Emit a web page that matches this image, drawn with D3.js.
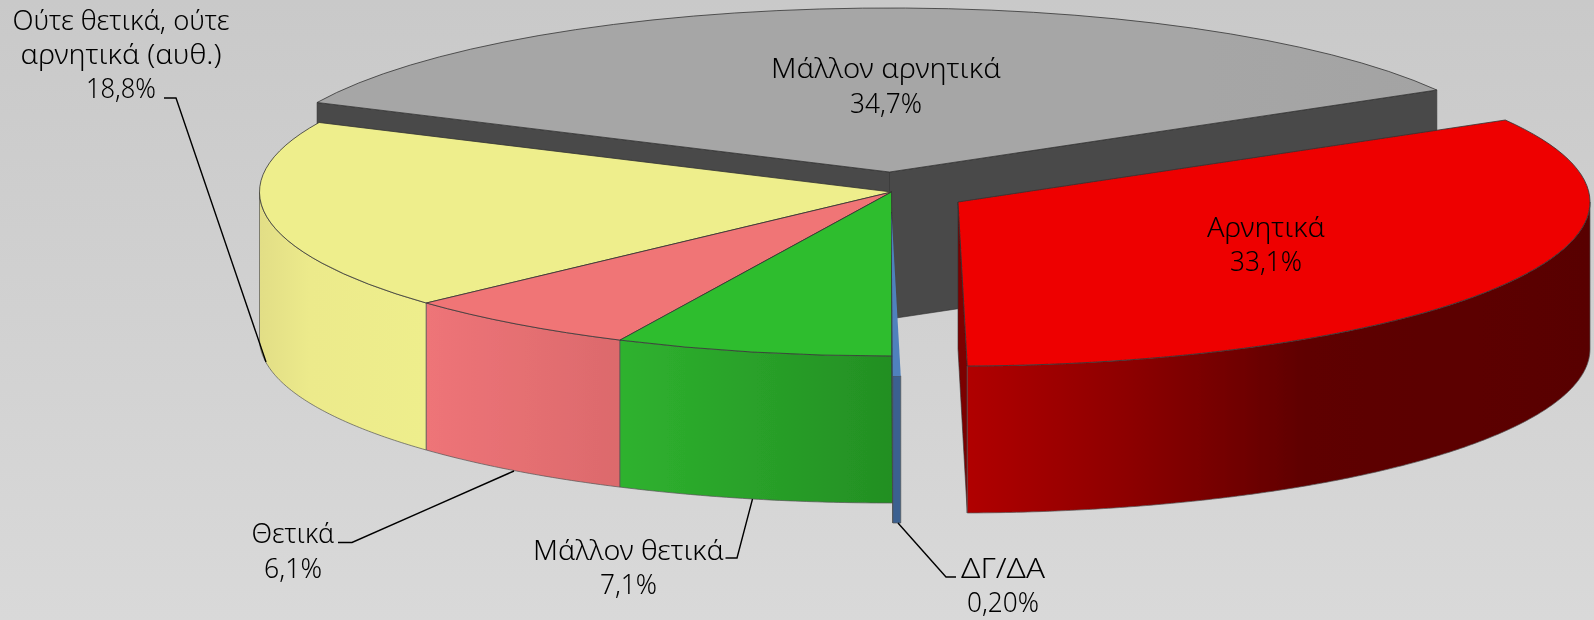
<!DOCTYPE html>
<html>
<head>
<meta charset="utf-8">
<script src="https://cdn.jsdelivr.net/npm/d3@7"></script>
<style>
  html, body { margin: 0; padding: 0; background: #d0d0d0; }
  svg { display: block; }
  text { font-family: "Noto Sans", sans-serif; font-weight: 300; font-size: 27px; fill: #000; text-anchor: middle; }
</style>
</head>
<body>
<svg class="svg"></svg>
<script>
// chart values, clockwise from the edge shared by the gray and red slices
const categories = ['Αρνητικά', 'ΔΓ/ΔΑ', 'Μάλλον θετικά', 'Θετικά', 'Ούτε θετικά, ούτε αρνητικά (αυθ.)', 'Μάλλον αρνητικά'];
const values = [33.1, 0.2, 7.1, 6.1, 18.8, 34.7];
const valueLabels = ['33,1%', '0,20%', '7,1%', '6,1%', '18,8%', '34,7%'];

const width = 1594;
const height = 620;
const rx = 632;
const ry = 164;
const depth = 147;
const cx = 891.5;
const cy = 192;
const rad = Math.PI / 180;

const svg = d3.select('.svg').attr('width', width).attr('height', height);
const defs = svg.append('defs');

function gradient(id, x1, x2, stops) {
  const g = defs.append('linearGradient')
    .attr('id', id)
    .attr('gradientUnits', 'userSpaceOnUse')
    .attr('x1', x1).attr('x2', x2).attr('y1', 0).attr('y2', 0);
  stops.forEach(s => g.append('stop').attr('offset', s[0]).attr('stop-color', s[1]));
}

defs.append('linearGradient')
  .attr('id', 'bg')
  .attr('x1', 0).attr('x2', 0).attr('y1', 0).attr('y2', 1)
  .call(g => {
    g.append('stop').attr('offset', 0).attr('stop-color', '#c9c9c9');
    g.append('stop').attr('offset', 1).attr('stop-color', '#d9d9d9');
  });

// the reference is an upscaled bitmap, a touch of blur keeps edges and text alike
defs.append('filter')
  .attr('id', 'soft')
  .attr('x', 0).attr('y', 0).attr('width', 1).attr('height', 1)
  .append('feGaussianBlur')
  .attr('stdDeviation', 0.45);

gradient('gray-top', 316, 1437, [[0, '#a6a6a6'], [0.45, '#a0a0a0'], [1, '#a9a9a9']]);
gradient('red-wall', 968, 1590, [[0, '#b00000'], [0.25, '#8e0000'], [0.55, '#5e0000'], [1, '#590000']]);
gradient('green-wall', 620, 892, [[0, '#2fb22f'], [1, '#238f23']]);
gradient('pink-wall', 426, 620, [[0, '#ee7478'], [1, '#dc6a6c']]);
gradient('yellow-wall', 260, 426, [[0, '#e2de86'], [0.3, '#ecea8b'], [1, '#eeee8c']]);

const sliceStyle = [
  { top: '#ee0000', wall: 'url(#red-wall)', side: '#7c0000', dx: 66.5, dy: 10 },
  { top: '#4f81bd', wall: '#3a6090', side: '#3a6090', dx: 0, dy: 20 },
  { top: '#2fbd2f', wall: 'url(#green-wall)', side: '#238f23', dx: 0, dy: 0 },
  { top: '#f07476', wall: 'url(#pink-wall)', side: '#dc6a6c', dx: 0, dy: 0 },
  { top: '#eeee8c', wall: 'url(#yellow-wall)', side: '#e2de86', dx: 0, dy: 0 },
  { top: 'url(#gray-top)', wall: '#484848', side: '#484848', dx: -2, dy: -20 }
];

// the gray slice sits behind everything, red goes last
const drawOrder = [5, 4, 3, 2, 1, 0];

const pie = d3.pie().sort(null)
  .startAngle(60 * rad)
  .endAngle(420 * rad);
const slices = pie(values);

const arc = d3.arc().innerRadius(0).outerRadius(rx);
const line = d3.line();

const px = (s, a) => s.cx + rx * Math.sin(a);
const py = (s, a) => s.cy - ry * Math.cos(a);

// curved outer wall, only the part that faces the viewer (90deg..270deg)
function outerWall(s, a0, a1) {
  const from = Math.max(a0, 90 * rad);
  const to = Math.min(a1, 270 * rad);
  if (to <= from) return null;
  const n = Math.ceil((to - from) / (0.5 * rad));
  const angles = d3.range(n + 1).map(i => from + (to - from) * i / n);
  const upper = angles.map(a => [px(s, a), py(s, a)]);
  const lower = angles.slice().reverse().map(a => [px(s, a), py(s, a) + depth]);
  return line(upper.concat(lower)) + 'Z';
}

// flat wall running from the apex out to the rim
function radialWall(s, a) {
  return line([
    [s.cx, s.cy],
    [px(s, a), py(s, a)],
    [px(s, a), py(s, a) + depth],
    [s.cx, s.cy + depth]
  ]) + 'Z';
}

const root = svg.append('g').attr('filter', 'url(#soft)');
root.append('rect')
  .attr('width', width).attr('height', height)
  .attr('fill', 'url(#bg)');

const pieG = root.append('g');

drawOrder.forEach(i => {
  const d = slices[i];
  const st = sliceStyle[i];
  const s = { cx: cx + st.dx, cy: cy + st.dy };
  const g = pieG.append('g');

  // gray shows both flat walls, red and blue only their left one
  const radials = i === 5 ? [d.startAngle, d.endAngle] : (i <= 1 ? [d.endAngle] : []);
  radials.forEach(a => {
    g.append('path')
      .attr('d', radialWall(s, a))
      .attr('fill', st.side)
      .attr('stroke', '#333')
      .attr('stroke-width', 0.6);
  });

  const wall = outerWall(s, d.startAngle, d.endAngle);
  if (wall) {
    g.append('path')
      .attr('d', wall)
      .attr('fill', st.wall)
      .attr('stroke', '#555')
      .attr('stroke-width', 0.7);
  }

  // the blue sliver is too thin to carry an outline
  g.append('path')
    .attr('d', arc({ startAngle: d.startAngle, endAngle: d.endAngle }))
    .attr('transform', `translate(${s.cx},${s.cy}) scale(1,${ry / rx})`)
    .attr('vector-effect', 'non-scaling-stroke')
    .attr('fill', st.top)
    .attr('stroke', i === 1 ? 'none' : '#333')
    .attr('stroke-width', 0.8);
});

// label placement, same order as the categories
const labelLines = [
  ['Αρνητικά', valueLabels[0]],
  ['ΔΓ/ΔΑ', valueLabels[1]],
  ['Μάλλον θετικά', valueLabels[2]],
  ['Θετικά', valueLabels[3]],
  ['Ούτε θετικά, ούτε', 'αρνητικά (αυθ.)', valueLabels[4]],
  ['Μάλλον αρνητικά', valueLabels[5]]
];
// line widths measured on the picture, the original typeface is wider than any installed one
const lineWidths = [[118, 72], [84, 72], [191, 57], [83, 58], [217, 201, 70], [230, 72]];
const labelAnchor = [[1266, 237], [1003, 578], [628.5, 560], [293, 543], [121, 30], [886, 78]];
const lineStep = [34, 34, 34, 35, 34, 35];
const leaders = [
  null,
  [[898, 523], [946, 577], [956, 577]],
  [[725.5, 558], [737, 558], [752.5, 499]],
  [[338, 542.5], [352, 542.5], [514, 471]],
  [[164, 98], [176, 98], [266, 362]],
  null
];

const labelG = root.append('g');

leaders.forEach(pts => {
  if (!pts) return;
  labelG.append('path')
    .attr('d', line(pts))
    .attr('fill', 'none')
    .attr('stroke', '#000')
    .attr('stroke-width', 1.4);
});

categories.forEach((c, i) => {
  labelLines[i].forEach((l, j) => {
    labelG.append('text')
      .attr('x', labelAnchor[i][0])
      .attr('y', labelAnchor[i][1] + j * lineStep[i])
      .attr('textLength', lineWidths[i][j])
      .attr('lengthAdjust', 'spacingAndGlyphs')
      .text(l);
  });
});
</script>
</body>
</html>
